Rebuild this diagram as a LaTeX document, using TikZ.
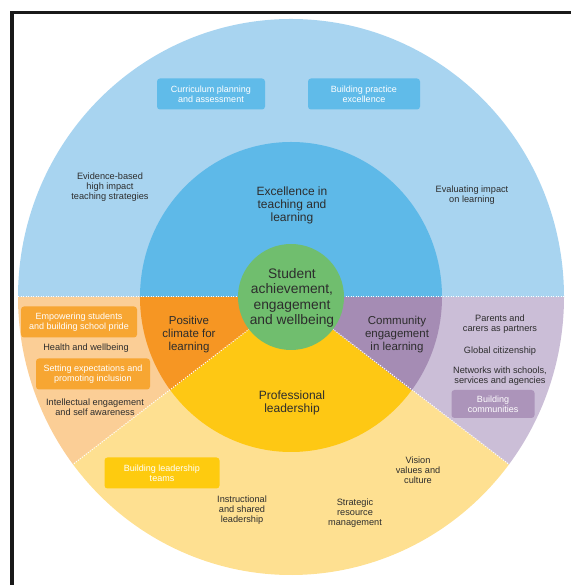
\documentclass[tikz,border=0pt]{standalone}
\usepackage{fontspec}
\setmainfont{Liberation Sans}
\usepackage{xcolor}
\usepackage{tikz}

\definecolor{skyout}{RGB}{168,212,240}
\definecolor{skymid}{RGB}{94,185,232}
\definecolor{skytag}{RGB}{96,187,233}
\definecolor{leaf}{RGB}{112,190,110}
\definecolor{peachout}{RGB}{251,206,150}
\definecolor{peachmid}{RGB}{246,150,35}
\definecolor{peachtag}{RGB}{247,166,50}
\definecolor{sunout}{RGB}{254,224,145}
\definecolor{sunmid}{RGB}{254,200,20}
\definecolor{suntag}{RGB}{254,203,15}
\definecolor{lilacout}{RGB}{203,190,215}
\definecolor{lilacmid}{RGB}{165,140,180}
\definecolor{lilactag}{RGB}{172,148,186}
\definecolor{ink}{RGB}{45,45,45}

% one slice of an (almost round) ring
\newcommand\ringpart[5]{\fill[#1] (0,0) -- ({#4*cos(#2)},{#5*sin(#2)}) arc[start angle=#2,end angle=#3,x radius=#4,y radius=#5] -- cycle;}

\begin{document}
\begin{tikzpicture}[x=1pt,y=1pt,
		lbl/.style={align=center,text=ink,inner sep=1pt,font=\fontsize{9.2}{10}\selectfont},
		ringlbl/.style={align=center,text=ink,inner sep=1pt,font=\fontsize{11.5}{13}\selectfont},
		tag/.style={align=center,text=white,rounded corners=3pt,minimum height=31pt,inner sep=2pt,font=\fontsize{9}{10}\selectfont},
		divider/.style={white,line width=1pt,dash pattern=on 1pt off 1.5pt}]
	\useasboundingbox (0,0) rectangle (570,585);
	\def\rx{273}
	\def\ry{278}
	\def\mx{151}
	\def\my{155}
	\def\ra{217}
	\def\rb{323}
	\begin{scope}[shift={(291,288)}]
		\ringpart{skyout}{0}{180}{\rx}{\ry}
		\ringpart{peachout}{180}{\ra}{\rx}{\ry}
		\ringpart{sunout}{\ra}{\rb}{\rx}{\ry}
		\ringpart{lilacout}{\rb}{360}{\rx}{\ry}
		\ringpart{skymid}{0}{180}{\mx}{\my}
		\ringpart{peachmid}{180}{\ra}{\mx}{\my}
		\ringpart{sunmid}{\ra}{\rb}{\mx}{\my}
		\ringpart{lilacmid}{\rb}{360}{\mx}{\my}
		\draw[divider] ({-\rx},0) -- (\rx,0);
		\draw[divider] (0,0) -- ({\rx*cos(\ra)},{\ry*sin(\ra)});
		\draw[divider] (0,0) -- ({\rx*cos(\rb)},{\ry*sin(\rb)});
		\fill[leaf] (0,0) circle (53);
	\end{scope}
	\draw[line width=3.5pt,black!90] (12,0) -- (12,572.5) -- (575,572.5);

	% centre and inner ring
	\node[align=center,text=ink,font=\fontsize{13.8}{15.3}\selectfont] (core) at (292,287) {Student\\achievement,\\engagement\\and wellbeing};
	\node[ringlbl,font=\fontsize{12}{13}\selectfont] (teach) at (292,380) {Excellence in\\teaching and\\learning};
	\node[ringlbl] (climate) at (189,250) {Positive\\climate for\\learning};
	\node[ringlbl] (community) at (397,250) {Community\\engagement\\in learning};
	\node[ringlbl,font=\fontsize{12}{13}\selectfont] (lead) at (292,182) {Professional\\leadership};

	% outer ring, blue
	\node[tag,fill=skytag,minimum width=108pt] (curric) at (211,491) {Curriculum planning\\and assessment};
	\node[tag,fill=skytag,minimum width=112pt] (practice) at (364,491) {Building practice\\excellence};
	\node[lbl] (evidence) at (110,398) {Evidence-based\\high impact\\teaching strategies};
	\node[lbl] (impact) at (472,390) {Evaluating impact\\on learning};

	% outer ring, orange
	\node[tag,fill=peachtag,minimum width=116pt] (pride) at (79,263) {Empowering students\\and building school pride};
	\node[lbl] (health) at (86,237) {Health and wellbeing};
	\node[tag,fill=peachtag,minimum width=114pt] (inclusion) at (93,211) {Setting expectations and\\promoting inclusion};
	\node[lbl] (intellect) at (95,178) {Intellectual engagement\\and self awareness};

	% outer ring, purple
	\node[lbl] (parents) at (500,261) {Parents and\\carers as partners};
	\node[lbl] (global) at (500,234) {Global citizenship};
	\node[lbl] (networks) at (500,209) {Networks with schools,\\services and agencies};
	\node[tag,fill=lilactag,minimum width=83pt,minimum height=28pt] (communities) at (493,181) {Building\\communities};

	% outer ring, yellow
	\node[tag,fill=suntag,minimum width=115pt] (teams) at (162,112) {Building leadership\\teams};
	\node[lbl] (shared) at (242,75) {Instructional\\and shared\\leadership};
	\node[lbl] (resource) at (355,72) {Strategic\\resource\\management};
	\node[lbl] (vision) at (418,115) {Vision\\values and\\culture};
\end{tikzpicture}
\end{document}
